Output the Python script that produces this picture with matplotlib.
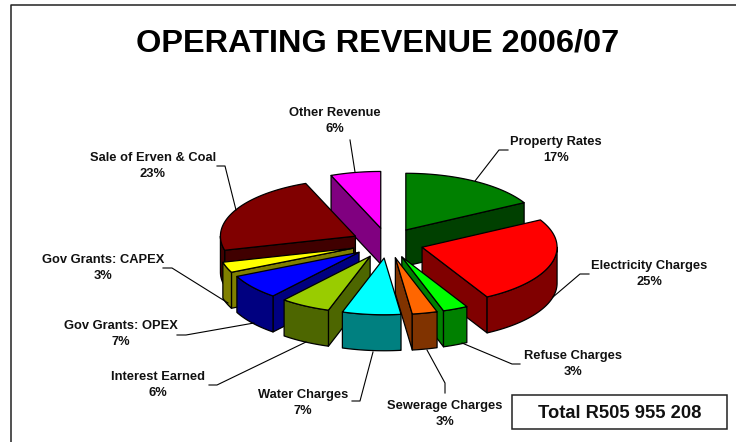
#!/usr/bin/env python3
import numpy as np
import matplotlib
matplotlib.use('Agg')
import matplotlib.pyplot as plt
from matplotlib.patches import Polygon, Rectangle

plt.rcParams['font.family'] = ['Liberation Sans', 'DejaVu Sans']

names = ['Property Rates', 'Electricity Charges', 'Refuse Charges', 'Sewerage Charges', 'Water Charges',
         'Interest Earned', 'Gov Grants: OPEX', 'Gov Grants: CAPEX', 'Sale of Erven & Coal', 'Other Revenue']
values = [17, 25, 3, 3, 7, 6, 7, 3, 23, 6]
top_colors = ['#008000', '#ff0000', '#00ff00', '#ff6600', '#00ffff',
              '#99cc00', '#0000ff', '#ffff00', '#800000', '#ff00ff']
side_colors = ['#004000', '#800000', '#008000', '#803300', '#008080',
               '#4d6600', '#000080', '#808000', '#400000', '#800080']

label_xy = [(556, 142), (649, 266), (573, 356), (445, 406), (303, 395),
            (158, 377), (121, 326), (103, 260), (153, 158), (335, 113)]
leaders = [[(475, 181), (499, 150), (508, 150)],
           [(553, 297), (580, 274), (589, 274)],
           [(462, 343), (512, 364), (520, 364)],
           [(427, 350), (445, 383), (445, 393)],
           [(373, 352), (360, 401), (352, 401)],
           [(306, 342), (217, 385), (209, 385)],
           [(254, 323), (186, 335), (177, 335)],
           [(228, 303), (172, 268), (163, 268)],
           [(236, 210), (225, 166), (217, 166)],
           [(355, 172), (350, 140)]]

CX, CY = 387.5, 243
R, K = 135, 0.42
EXPLODE, DEPTH = 36, 36


def pt(cx, cy, deg, r=R):
    a = np.radians(deg)
    return np.column_stack([cx + r * np.sin(a), cy - r * K * np.cos(a)])


def draw_slice(ax, start, end, top, side):
    mid = np.radians((start + end) / 2)
    ax_x = CX + EXPLODE * np.sin(mid)
    ax_y = CY - EXPLODE * K * np.cos(mid)
    apex = np.array([[ax_x, ax_y]])
    drop = np.array([[0, DEPTH]])
    arc = pt(ax_x, ax_y, np.linspace(start, end, 80))
    style = dict(ec='black', lw=0.9, joinstyle='round')

    # only the faces turned towards the viewer
    if np.sin(np.radians(start)) < 0:
        p = np.vstack([apex, arc[:1], arc[:1] + drop, apex + drop])
        ax.add_patch(Polygon(p, fc=side, **style))
    if np.sin(np.radians(end)) > 0:
        p = np.vstack([apex, arc[-1:], arc[-1:] + drop, apex + drop])
        ax.add_patch(Polygon(p, fc=side, **style))
    a0, a1 = max(start, 90), min(end, 270)
    if a0 < a1:
        rim = pt(ax_x, ax_y, np.linspace(a0, a1, 80))
        ax.add_patch(Polygon(np.vstack([rim, (rim + drop)[::-1]]), fc=side, **style))
    ax.add_patch(Polygon(np.vstack([apex, arc]), fc=top, **style))


fig = plt.figure(figsize=(7.36, 4.42), dpi=100)
ax = fig.add_axes([0, 0, 1, 1])
ax.set_xlim(0, 736)
ax.set_ylim(442, 0)
ax.axis('off')

# outer frame runs off the right and bottom of the picture
ax.plot([10.5, 10.5, 736], [442, 4.5, 4.5], color='#222222', lw=1.1)

ax.text(378, 43.5, 'OPERATING REVENUE 2006/07', fontsize=23.4, fontweight='bold',
        ha='center', va='center', color='black')

edges = np.cumsum([0] + values) * 360 / sum(values)
mids = (edges[:-1] + edges[1:]) / 2
# back to front
for i in np.argsort(-np.cos(np.radians(mids))):
    draw_slice(ax, edges[i], edges[i + 1], top_colors[i], side_colors[i])

for i, name in enumerate(names):
    x, y = label_xy[i]
    ax.text(x, y, name, fontsize=9.3, fontweight='bold', ha='center', va='center', color='#111111')
    ax.text(x, y + 16, '%d%%' % values[i], fontsize=9.3, fontweight='bold', ha='center', va='center', color='#111111')
    lx, ly = zip(*leaders[i])
    ax.plot(lx, ly, color='black', lw=0.8)

ax.add_patch(Rectangle((512, 395), 215, 34, fc='white', ec='#222222', lw=1.1))
ax.text(620, 414, 'Total R505 955 208', fontsize=13.2, fontweight='bold', ha='center', va='center', color='#111111')

fig.savefig('out.png', dpi=100)
